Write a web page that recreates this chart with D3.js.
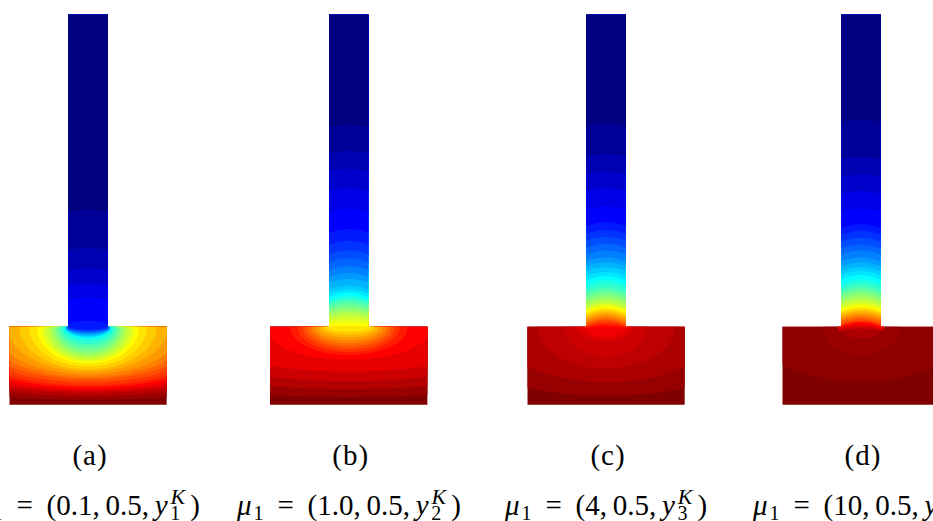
<!DOCTYPE html>
<html>
<head>
<meta charset="utf-8">
<script src="https://cdn.jsdelivr.net/npm/d3@7"></script>
<style>
  html, body { margin: 0; padding: 0; background: #fff; overflow: hidden; }
  text { font-family: "Liberation Serif", serif; fill: #000; }
</style>
</head>
<body>
<svg id="chart" width="933" height="521"></svg>
<script>
// iso-lines. T shape: stem is 40 wide, 320 tall; base is 160 x 80.
// stem rows: [value, height at centre, height at stem edge]
const stemA = [[0,120,117],[.025,81,78],[.05,60,57],[.075,44,41],[.1,30,27],[.125,6,3]];
const stemB = [[0,207,205],[.025,180,178],[.05,162,159],[.075,142,139],[.1,121,117],[.125,100,96],
  [.15,88,84],[.175,78,74],[.2,70,66],[.225,62,58],[.25,55,51],[.275,49,45],[.3,42,38],[.325,38,34],
  [.35,35,30],[.375,32,27],[.4,29,25],[.425,27,23],[.45,24,20],[.475,21,17],[.5,18,15],[.525,15,12],
  [.55,12,9],[.575,8,6],[.6,4,3],[.625,1,0]];
const stemC = [[0,208,206],[.025,177,175],[.05,159,156],[.075,142,139],[.1,123,120],[.125,107,103],
  [.15,99,95],[.175,92,88],[.2,85,81],[.225,78,74],[.25,71,67],[.275,66,62],[.3,61,57],[.325,56,52],
  [.35,52,47],[.375,48,43],[.4,44,39],[.425,40,35],[.45,37,32],[.475,34,29],[.5,31,26],[.525,28,23],
  [.55,25,20],[.575,23,18],[.6,21,16],[.625,19,14],[.65,17,12],[.675,15,10],[.7,13,8],[.725,11,6],
  [.75,9,4],[.775,7,2],[.8,5,1],[.825,3,0],[.85,1,-1]];
const stemD = [[0,212,210],[.025,174,172],[.05,156,153],[.075,139,136],[.1,121,118],[.125,105,101],
  [.15,98,94],[.175,91,87],[.2,84,80],[.225,78,74],[.25,71,67],[.275,66,62],[.3,61,57],[.325,57,53],
  [.35,53,48],[.375,49,44],[.4,45,40],[.425,42,37],[.45,39,34],[.475,36,31],[.5,33,28],[.525,30,25],
  [.55,27,22],[.575,24,20],[.6,22,18],[.625,20,16],[.65,18,14],[.675,16,12],[.7,14,10],[.725,12,8],
  [.75,10,6],[.775,8,4],[.8,6,2],[.825,5,1],[.85,4,0],[.875,2,-1],[.9,0,-2],[.925,-2,-4]];
// base rows: [value, half width along the top, depth at centre]
const baseA = [[.15,21,3],[.175,21,4],[.2,22,5],[.225,22,6],[.25,22,7],[.275,23,8],[.3,23,9],[.325,23,10],
  [.35,24,11],[.375,24,12],[.4,26,15],[.425,28,18],[.45,30,21],[.475,32,24],[.5,34,27],[.525,37,29],
  [.55,40,32],[.575,44,34],[.6,48,36],[.625,52,38],[.65,60,41],[.675,70,44],[.7,82,46],[.725,96,49],
  [.75,108,52],[.775,122,54],[.8,136,57],[.825,150,60],[.85,165,62],[.875,180,64],[.9,200,66],
  [.925,225,68],[.95,260,71],[.975,300,75]];
const baseB = [[.65,24,5],[.675,27,8],[.7,31,11],[.725,35,14],[.75,39,17],[.775,43,20],[.8,47,23],
  [.825,52,26],[.85,60,29],[.875,85,34],[.9,170,46],[.925,200,56],[.95,260,64],[.975,340,72]];
const baseC = [[.875,20,2],[.89,21,11],[.905,29,14],[.925,42,31],[.94,70,43],[.957,115,57],[.978,170,71]];
const baseD = [[.955,21,12],[.975,39,29],[.985,110,56]];

const tags = ["(a)", "(b)", "(c)", "(d)"];
const firstParam = ["0.1", "1.0", "4", "10"];
const subs = ["1", "2", "3", "4"];

const stems = [stemA, stemB, stemC, stemD];
const bases = [baseA, baseB, baseC, baseD];
const panelLeft = [9.3, 270, 527.3, 782.3];
const captionStart = [-24, 237, 505, 753];

const svg = d3.select("#chart");

const xScale = d3.scaleLinear().domain([-80, 80]).range([0, 157.4]);
const yScale = d3.scaleLinear().domain([-80, 320]).range([390.2, 0]);

// jet
const colorScale = d3.scaleLinear()
  .domain([0, .125, .375, .625, .875, 1])
  .range(["#000080", "#0000ff", "#00ffff", "#ffff00", "#ff0000", "#800000"]);

const area = d3.area()
  .x(d => xScale(d[0]))
  .y0(yScale(330))
  .y1(d => yScale(d[1]));

const defs = svg.append("defs");
const clip = defs.append("clipPath").attr("id", "tee");
clip.append("rect")
  .attr("x", xScale(-20)).attr("width", xScale(20) - xScale(-20))
  .attr("y", yScale(320)).attr("height", yScale(0) - yScale(320));
clip.append("rect")
  .attr("x", xScale(-80)).attr("width", xScale(80) - xScale(-80))
  .attr("y", yScale(0)).attr("height", yScale(-80) - yScale(0));

const xsBase = d3.range(-84, 84.5, 1);
const xsStem = d3.range(-23, 23.5, 1);

stems.forEach((stem, i) => {
  const g = svg.append("g")
    .attr("transform", `translate(${panelLeft[i]},14.5)`)
    .attr("clip-path", "url(#tee)");

  // whole T in the top value, iso-lines paint over it deepest first
  g.append("rect")
    .attr("x", xScale(-84)).attr("width", xScale(84) - xScale(-84))
    .attr("y", yScale(330)).attr("height", yScale(-90) - yScale(330))
    .attr("fill", colorScale(1));

  // outside its half width a base line sits above the junction, so it never grazes the base's top edge
  const bandsBase = bases[i].map(([v, rx, ry]) => ({
    v,
    pts: xsBase.map(x => [x, Math.abs(x) < rx ? -ry * Math.sqrt(1 - (x / rx) ** 2) : 4])
  }));
  const bandsStem = stem.map(([v, yc, ye]) => ({
    v,
    pts: xsStem.map(x => [x, ye + (yc - ye) * (1 - (x / 20) ** 2)])
  }));
  const bands = bandsBase.concat(bandsStem).sort((a, b) => b.v - a.v);

  g.selectAll("path")
    .data(bands)
    .enter()
    .append("path")
    .attr("d", d => area(d.pts))
    .attr("fill", d => colorScale(d.v));

  svg.append("text")
    .attr("x", panelLeft[i] + xScale(0) + 2)
    .attr("y", 465)
    .attr("text-anchor", "middle")
    .attr("font-size", 29)
    .attr("letter-spacing", 1)
    .text(tags[i]);

  const cap = svg.append("text")
    .attr("x", captionStart[i])
    .attr("y", 515)
    .attr("font-size", 29);
  cap.append("tspan").attr("font-style", "italic").text("μ");
  cap.append("tspan").attr("font-size", 20).attr("dx", 2).attr("dy", 5).text("1");
  cap.append("tspan").attr("dy", -5).attr("dx", 14).text("=");
  cap.append("tspan").attr("dx", 13.6).attr("word-spacing", -1.5)
    .text("(" + firstParam[i] + ", 0.5, ");
  cap.append("tspan").attr("font-style", "italic").text("y");
  cap.append("tspan").attr("font-style", "italic").attr("font-size", 22).attr("dx", 3).attr("dy", -11).text("K");
  cap.append("tspan").attr("font-size", 20).attr("dx", -15).attr("dy", 16).text(subs[i]);
  cap.append("tspan").attr("dx", 10).attr("dy", -5).text(")");
});
</script>
</body>
</html>
